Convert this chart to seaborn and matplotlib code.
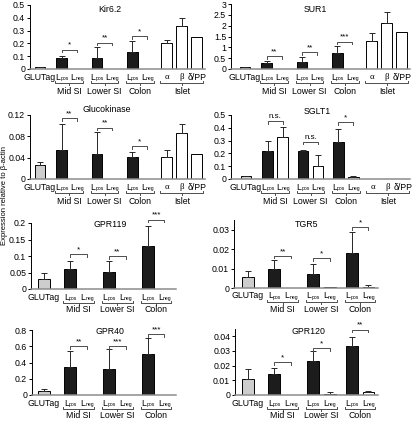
import numpy as np
import pandas as pd
import matplotlib
matplotlib.use('Agg')
import matplotlib.pyplot as plt
import seaborn as sns

# ---- values ----
groups = ['Mid SI', 'Lower SI', 'Colon']
islet_names = ['α', 'β', 'δ/PP']
islet_kinds = ['glutag', 'pos', 'neg', 'pos', 'neg', 'pos', 'neg', 'islet', 'islet', 'islet']
gut_kinds = islet_kinds[:7]

kir62_mean = [0.013, 0.083, 0.003, 0.088, 0.002, 0.135, 0.003, 0.200, 0.333, 0.250]
kir62_err = [0.002, 0.018, 0, 0.082, 0, 0.087, 0, 0.030, 0.062, 0]
kir62_sig = ['*', '**', '*']
kir62_sig_y = [0.152, 0.205, 0.256]

sur1_mean = [0.08, 0.26, 0.01, 0.31, 0.01, 0.75, 0.01, 1.29, 2.13, 1.69]
sur1_err = [0.01, 0.12, 0, 0.23, 0, 0.31, 0, 0.35, 0.48, 0]
sur1_sig = ['**', '**', '***']
sur1_sig_y = [0.60, 0.77, 1.26]

gck_mean = [0.026, 0.054, 0.0005, 0.046, 0.0005, 0.042, 0.0005, 0.042, 0.086, 0.046]
gck_err = [0.005, 0.050, 0, 0.043, 0, 0.009, 0, 0.013, 0.018, 0]
gck_sig = ['**', '**', '*']
gck_sig_y = [0.114, 0.096, 0.061]

sglt1_mean = [0.02, 0.215, 0.325, 0.215, 0.102, 0.292, 0.018, 0.0, 0.0, 0.002]
sglt1_err = [0.002, 0.08, 0.085, 0.013, 0.088, 0.10, 0.007, 0, 0, 0]
sglt1_sig = ['n.s.', 'n.s.', '*']
sglt1_sig_y = [0.45, 0.29, 0.445]

gpr119_mean = [0.029, 0.060, 0.001, 0.052, 0.0005, 0.130, 0.0005]
gpr119_err = [0.018, 0.025, 0, 0.034, 0, 0.060, 0]
gpr119_sig = ['*', '**', '***']
gpr119_sig_y = [0.105, 0.100, 0.210]

tgr5_mean = [0.0058, 0.0097, 0.0002, 0.0071, 0.0003, 0.0179, 0.0007]
tgr5_err = [0.0029, 0.0047, 0, 0.0052, 0, 0.0109, 0.0006]
tgr5_sig = ['**', '*', '*']
tgr5_sig_y = [0.0165, 0.0153, 0.0313]

gpr40_mean = [0.049, 0.34, 0.003, 0.32, 0.003, 0.50, 0.003]
gpr40_err = [0.025, 0.20, 0, 0.25, 0, 0.20, 0]
gpr40_sig = ['**', '***', '***']
gpr40_sig_y = [0.60, 0.60, 0.75]

gpr120_mean = [0.0106, 0.0140, 0.0003, 0.0229, 0.0007, 0.0337, 0.0018]
gpr120_err = [0.0074, 0.0047, 0, 0.0068, 0.0011, 0.0056, 0.0011]
gpr120_sig = ['*', '*', '**']
gpr120_sig_y = [0.0225, 0.032, 0.0445]

W, H = 415, 422
FS = 6.3
PT = 0.72  # points per pixel at dpi 100
plt.rcParams['font.family'] = ['Liberation Sans', 'DejaVu Sans']

colors = {'glutag': '#cdcdcd', 'pos': '#1c1c1c', 'neg': 'white', 'islet': 'white'}


def bar_positions(first, with_islet):
    # GLUTag at 0, then pairs (Lpos, Lneg) one unit apart with wider gaps between groups
    xs = [0.0]
    for g in range(3):
        xs += [first + g * 2.35, first + g * 2.35 + 1]
    if with_islet:
        start = xs[-1] + 1.3
        xs += [start, start + 1, start + 2]
    return xs


def l_label(ax, x, y, sub):
    # "L" with a small subscript, centred on x
    ax.annotate('L', (x, y), xytext=(-6.5 * PT, 0), textcoords='offset points',
                ha='left', va='center', fontsize=FS, annotation_clip=False)
    ax.annotate(sub, (x, y), xytext=(-1.6 * PT, -1.8 * PT), textcoords='offset points',
                ha='left', va='center', fontsize=FS * 0.58, annotation_clip=False)


def panel(box, glutag_px, unit, title, title_px, mean, err, sig, sig_y,
          ymax, ticks, islet, group_off):
    left, top, right, bottom = box
    ax = fig.add_axes([left / W, 1 - bottom / H, (right - left) / W, (bottom - top) / H])
    kinds = islet_kinds if islet else gut_kinds
    xs = bar_positions(1.45 if islet else 1.6, islet)
    df = pd.DataFrame({'x': xs, 'y': mean, 'kind': kinds})
    sns.barplot(data=df, x='x', y='y', hue='kind', palette=colors, native_scale=True,
                dodge=False, width=0.72, saturation=1, edgecolor='black',
                linewidth=0.7, errorbar=None, legend=False, ax=ax)
    m = np.array(err) > 0
    ax.errorbar(np.array(xs)[m], np.array(mean)[m],
                yerr=[np.zeros(m.sum()), np.array(err)[m]], fmt='none',
                ecolor='0.15', elinewidth=0.7, capsize=2, capthick=0.7)
    ax.set_xlim((left - glutag_px) / unit, (right - glutag_px) / unit)
    ax.set_ylim(0, ymax)
    ax.set_yticks(ticks)
    ax.set_yticklabels(['%g' % t for t in ticks])
    ax.set_xticks([])
    ax.set_xlabel('')
    ax.set_ylabel('')
    sns.despine(ax=ax)
    ax.spines['left'].set_linewidth(0.7)
    ax.spines['bottom'].set_color('0.55')
    ax.spines['bottom'].set_linewidth(1.1)
    ax.tick_params(axis='y', length=2.5, width=0.7, labelsize=FS, pad=1)
    ax.set_facecolor('none')

    py = ymax / (bottom - top)  # data units per pixel
    # significance brackets
    for g in range(3):
        x0, x1 = xs[1 + 2 * g], xs[2 + 2 * g]
        y = sig_y[g]
        ax.plot([x0, x0, x1, x1], [y - 2.5 * py, y, y, y - 2.5 * py], color='0.3',
                lw=0.7, clip_on=False)
        ax.text((x0 + x1) / 2, y + 1 * py, sig[g], ha='center', va='bottom',
                fontsize=FS - 0.5, clip_on=False)
    # category labels
    ax.text(xs[0], -8 * py, 'GLUTag', ha='center', va='center', fontsize=FS)
    for g in range(3):
        l_label(ax, xs[1 + 2 * g], -8 * py, 'pos')
        l_label(ax, xs[2 + 2 * g], -8 * py, 'neg')
    spans = [(xs[1 + 2 * g], xs[2 + 2 * g], groups[g]) for g in range(3)]
    if islet:
        for i, name in enumerate(islet_names):
            fam = ['Liberation Serif', 'DejaVu Serif'] if i < 2 else None
            ax.text(xs[7 + i], -8 * py, name, ha='center', va='center', fontsize=FS,
                    family=fam)
        spans.append((xs[7], xs[9], 'Islet'))
    # group brackets
    for x0, x1, name in spans:
        a, b = x0 - 0.42, x1 + 0.42
        yb = -14 * py
        ax.plot([a, a, b, b], [yb + 2 * py, yb, yb, yb + 2 * py], color='0.3', lw=0.7,
                clip_on=False)
        ax.plot([(a + b) / 2] * 2, [yb, yb - 1.5 * py], color='0.3', lw=0.7, clip_on=False)
        ax.text((x0 + x1) / 2, -group_off * py, name, ha='center', va='center',
                fontsize=FS)
    fig.text(title_px[0] / W, 1 - title_px[1] / H, title, ha='center', va='center',
             fontsize=FS)
    return ax


fig = plt.figure(figsize=(W / 100, H / 100), dpi=100)

panel((30, 5, 205, 69), 40, 15, 'Kir6.2', (110, 10), kir62_mean, kir62_err,
      kir62_sig, kir62_sig_y, 0.5, [0, 0.1, 0.2, 0.3, 0.4, 0.5], True, 23)
panel((231, 4, 410, 69), 245, 15, 'SUR1', (315, 10), sur1_mean, sur1_err,
      sur1_sig, sur1_sig_y, 3, [0, 0.5, 1, 1.5, 2, 2.5, 3], True, 23)
panel((30, 115, 205, 179), 40, 15, 'Glucokinase', (107, 110), gck_mean, gck_err,
      gck_sig, gck_sig_y, 0.12, [0, 0.04, 0.08, 0.12], True, 23)
panel((231, 115, 410, 179), 246, 15, 'SGLT1', (317, 111), sglt1_mean, sglt1_err,
      sglt1_sig, sglt1_sig_y, 0.5, [0, 0.1, 0.2, 0.3, 0.4, 0.5], True, 23)
panel((31, 223, 176, 289), 44, 16.5, 'GPR119', (110, 224), gpr119_mean, gpr119_err,
      gpr119_sig, gpr119_sig_y, 0.2, [0, 0.05, 0.1, 0.15, 0.2], False, 21)
panel((234, 220, 378, 288), 248, 16.5, 'TGR5', (307, 224), tgr5_mean, tgr5_err,
      tgr5_sig, tgr5_sig_y, 0.035, [0, 0.01, 0.02, 0.03], False, 21)
panel((32, 330, 176, 395), 44, 16.5, 'GPR40', (110, 332), gpr40_mean, gpr40_err,
      gpr40_sig, gpr40_sig_y, 0.8, [0, 0.2, 0.4, 0.6, 0.8], False, 21)
panel((235, 329, 378, 395), 248, 16.5, 'GPR120', (308, 332), gpr120_mean, gpr120_err,
      gpr120_sig, gpr120_sig_y, 0.045, [0, 0.01, 0.02, 0.03, 0.04], False, 21)

fig.text(5 / W, 1 - 195 / H, 'Expression relative to β-actin', rotation=90,
         ha='center', va='center', fontsize=5.5)

fig.savefig('out.png', dpi=100)
